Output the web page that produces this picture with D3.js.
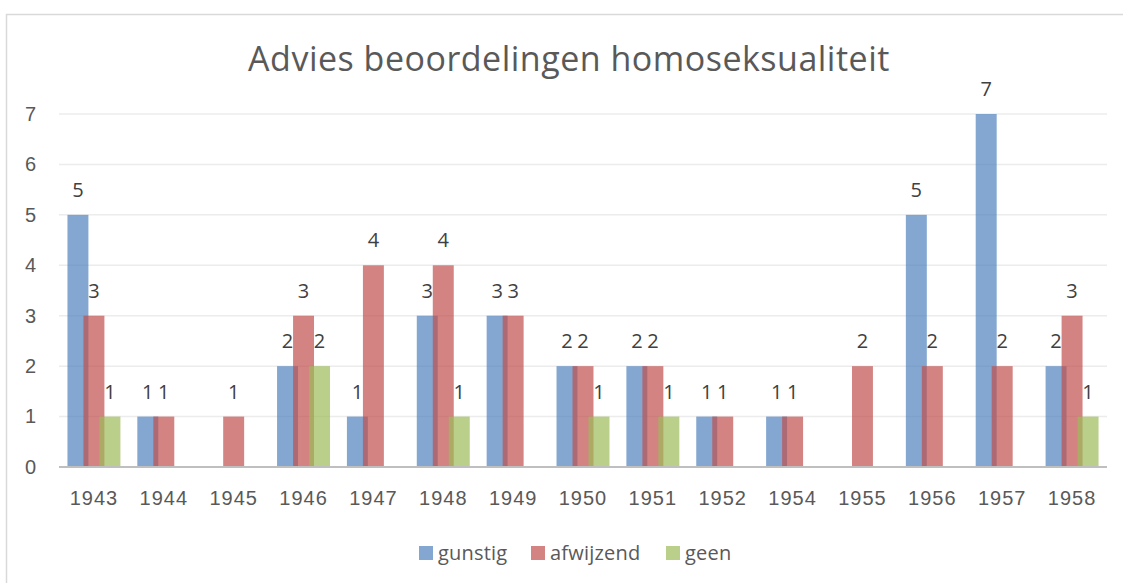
<!DOCTYPE html>
<html>
<head>
<meta charset="utf-8">
<script src="https://cdn.jsdelivr.net/npm/d3@7"></script>
<style>
  body { margin: 0; background: white; }
  svg { font-family: 'Open Sans', sans-serif; }
</style>
</head>
<body>
<script>
// data
const years = ['1943', '1944', '1945', '1946', '1947', '1948', '1949', '1950', '1951', '1952', '1954', '1955', '1956', '1957', '1958']
const seriesNames = ['gunstig', 'afwijzend', 'geen']
const gunstig = [5, 1, null, 2, 1, 3, 3, 2, 2, 1, 1, null, 5, 7, 2]
const afwijzend = [3, 1, 1, 3, 4, 4, 3, 2, 2, 1, 1, 2, 2, 2, 3]
const geen = [1, null, null, 2, null, 1, null, 1, 1, null, null, null, null, null, 1]
const yTicks = [0, 1, 2, 3, 4, 5, 6, 7]
const colours = ['#4f81bd', '#c0504d', '#9bbb59']
const title = 'Advies beoordelingen homoseksualiteit'

const width = 1123
const height = 583
const margin = { top: 114, right: 16, bottom: 116, left: 59 }
const textColour = '#595959'
const fontSize = '20px'

const svg = d3.select('body').append('svg')
  .attr('width', width)
  .attr('height', height)

// chart border (runs off the right and bottom edges)
svg.append('rect')
  .attr('x', 6.5)
  .attr('y', 14.5)
  .attr('width', width + 10)
  .attr('height', height + 10)
  .attr('fill', 'white')
  .attr('stroke', '#d9d9d9')
  .attr('stroke-width', 1.5)

const x0 = d3.scaleBand()
  .domain(years)
  .range([margin.left, width - margin.right])

// centres of each series' bar inside a category (Excel style overlap)
const barWidth = x0.bandwidth() * 0.3
const x1 = d3.scalePoint()
  .domain(seriesNames)
  .range([-x0.bandwidth() * 0.229, x0.bandwidth() * 0.229])

const y = d3.scaleLinear()
  .domain([0, 7])
  .range([height - margin.bottom, margin.top])

// gridlines
svg.append('g')
  .selectAll('line')
  .data(yTicks.filter(d => d > 0))
  .enter()
  .append('line')
  .attr('x1', margin.left)
  .attr('x2', width - margin.right)
  .attr('y1', d => y(d))
  .attr('y2', d => y(d))
  .attr('stroke', '#ececec')
  .attr('stroke-width', 1.5)

// y axis labels
const yAxis = svg.append('g')
  .attr('transform', `translate(${margin.left - 23},0)`)
  .call(d3.axisLeft(y).tickValues(yTicks).tickFormat(d3.format('d')).tickSize(0).tickPadding(0))
yAxis.select('.domain').remove()
yAxis.selectAll('text')
  .attr('fill', textColour)
  .style('font-size', fontSize)

// bars
const seriesData = [gunstig, afwijzend, geen]
seriesData.forEach((values, si) => {
  const rows = years.map((yr, i) => ({ year: yr, value: values[i] })).filter(d => d.value !== null)
  const g = svg.append('g').attr('class', 'series-' + seriesNames[si])

  g.selectAll('rect')
    .data(rows)
    .enter()
    .append('rect')
    .attr('x', d => x0(d.year) + x0.bandwidth() / 2 + x1(seriesNames[si]) - barWidth / 2)
    .attr('y', d => y(d.value))
    .attr('width', barWidth)
    .attr('height', d => y(0) - y(d.value))
    .attr('fill', colours[si])
    .attr('fill-opacity', 0.7)
})

// data labels drawn after all bars
seriesData.forEach((values, si) => {
  const rows = years.map((yr, i) => ({ year: yr, value: values[i] })).filter(d => d.value !== null)
  svg.append('g')
    .selectAll('text')
    .data(rows)
    .enter()
    .append('text')
    .attr('x', d => x0(d.year) + x0.bandwidth() / 2 + x1(seriesNames[si]))
    .attr('y', d => y(d.value) - 18)
    .attr('text-anchor', 'middle')
    .attr('fill', '#404040')
    .style('font-size', fontSize)
    .text(d => d.value)
})

// baseline
svg.append('line')
  .attr('x1', margin.left)
  .attr('x2', width - margin.right)
  .attr('y1', y(0))
  .attr('y2', y(0))
  .attr('stroke', '#bfbfbf')
  .attr('stroke-width', 2)

// x axis labels
const xAxis = svg.append('g')
  .attr('transform', `translate(0,${y(0)})`)
  .call(d3.axisBottom(x0).tickSize(0).tickPadding(24))
xAxis.select('.domain').remove()
xAxis.selectAll('text')
  .attr('fill', textColour)
  .style('font-size', fontSize)
  .style('letter-spacing', '1px')

// title
svg.append('text')
  .attr('x', 569)
  .attr('y', 71)
  .attr('text-anchor', 'middle')
  .attr('fill', textColour)
  .style('font-size', '34px')
  .style('letter-spacing', '0.5px')
  .text(title)

// legend
const legendX = [419, 531, 666]
const legend = svg.append('g')
  .selectAll('g')
  .data(seriesNames)
  .enter()
  .append('g')
  .attr('transform', (d, i) => `translate(${legendX[i]},546)`)
legend.append('rect')
  .attr('width', 14)
  .attr('height', 14)
  .attr('fill', (d, i) => colours[i])
  .attr('fill-opacity', 0.7)
legend.append('text')
  .attr('x', 19)
  .attr('y', 14)
  .attr('fill', textColour)
  .style('font-size', fontSize)
  .style('letter-spacing', '0.2px')
  .text(d => d)
</script>
</body>
</html>
